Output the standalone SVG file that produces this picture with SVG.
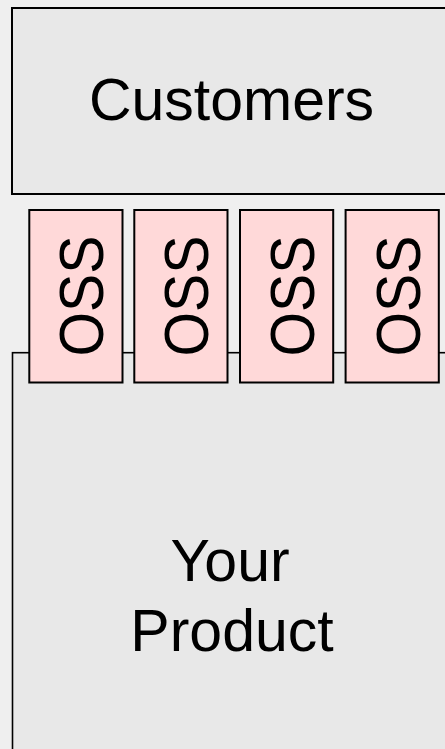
<svg xmlns="http://www.w3.org/2000/svg" width="445" height="749" viewBox="0 0 445 749">
<style>
.bg{fill:#efefef}
.box{fill:#e8e8e8;stroke:#000;stroke-width:2}
.oss{fill:#ffd9d9;stroke:#000;stroke-width:2}
.t{font-family:"Liberation Sans",Arial,sans-serif;fill:#000;text-anchor:middle}
.big{font-size:59px}
.ot{font-size:63px}
</style>
<rect class="bg" x="0" y="0" width="445" height="749"/>
<g id="customers">
<rect class="box" x="12" y="8" width="460" height="186"/>
<text class="t big" x="231.5" y="120">Customers</text>
</g>
<g id="product">
<rect class="box" x="12.5" y="352.7" width="460" height="420" style="stroke-width:1.6"/>
<text class="t big" x="230" y="581">Your</text>
<text class="t big" x="232" y="650.5">Product</text>
</g>
<g id="connectors"></g>
<g id="oss1">
<rect class="oss" x="29.3" y="210" width="93.2" height="172.5"/>
<text class="t ot" transform="translate(103.3,296) rotate(-90)" textLength="121" lengthAdjust="spacingAndGlyphs">OSS</text>
</g>
<g id="oss2">
<rect class="oss" x="134.3" y="210" width="93.2" height="172.5"/>
<text class="t ot" transform="translate(208.3,296) rotate(-90)" textLength="121" lengthAdjust="spacingAndGlyphs">OSS</text>
</g>
<g id="oss3">
<rect class="oss" x="240" y="210" width="93.2" height="172.5"/>
<text class="t ot" transform="translate(314,296) rotate(-90)" textLength="121" lengthAdjust="spacingAndGlyphs">OSS</text>
</g>
<g id="oss4">
<rect class="oss" x="345.6" y="210" width="93.2" height="172.5"/>
<text class="t ot" transform="translate(419.6,296) rotate(-90)" textLength="121" lengthAdjust="spacingAndGlyphs">OSS</text>
</g>
</svg>
